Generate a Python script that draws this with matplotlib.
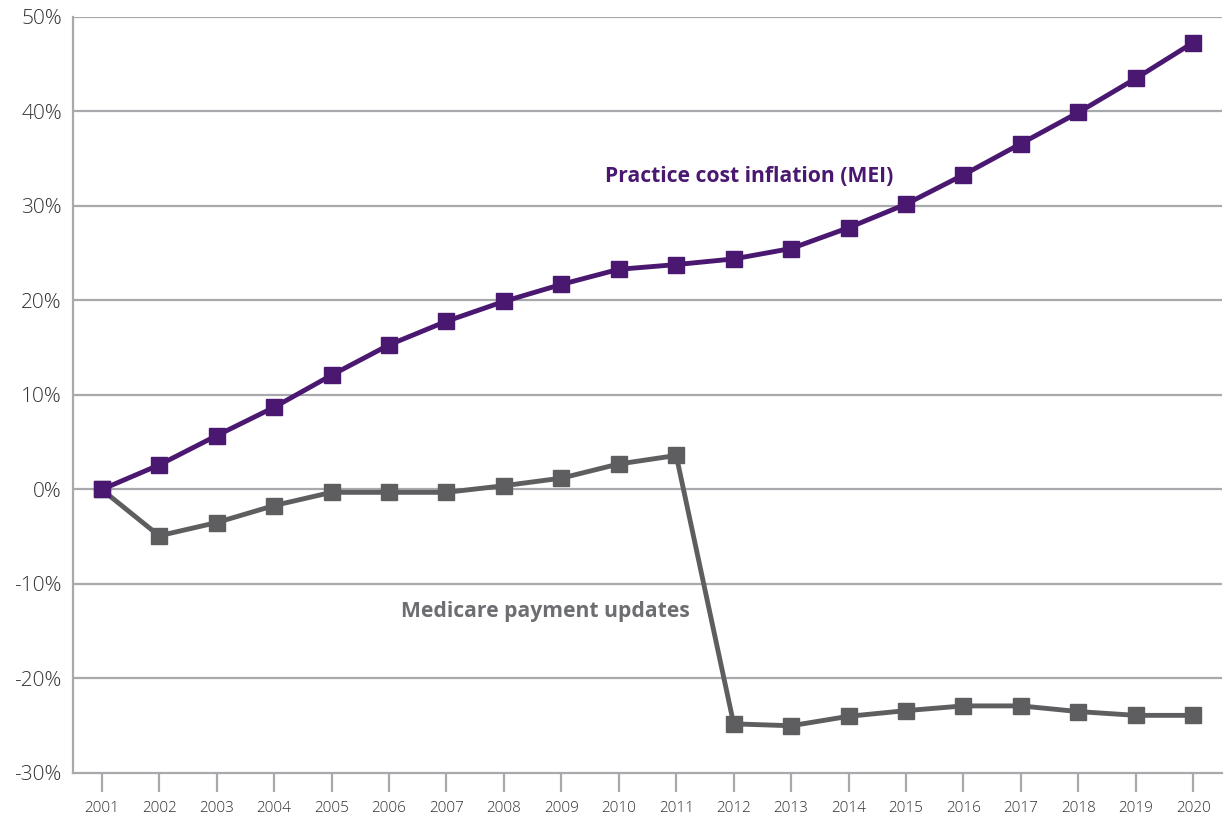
import matplotlib.pyplot as plt
from matplotlib.ticker import FuncFormatter

years = list(range(2001, 2021))
mei = [0, 2.6, 5.7, 8.7, 12.1, 15.3, 17.8, 19.9, 21.7, 23.3,
       23.8, 24.4, 25.5, 27.7, 30.2, 33.3, 36.6, 39.9, 43.5, 47.3]
medicare = [0, -4.9, -3.5, -1.7, -0.3, -0.3, -0.3, 0.4, 1.2, 2.7,
            3.6, -24.8, -25.0, -24.0, -23.4, -22.9, -22.9, -23.5, -23.9, -23.9]
y_ticks = [-30, -20, -10, 0, 10, 20, 30, 40, 50]

purple = '#4a1870'
gray_line = '#5e5e60'
grid_col = '#a7a9ac'

plt.rcParams['font.family'] = ['Open Sans', 'DejaVu Sans']

fig = plt.figure(figsize=(12.29, 8.16), dpi=100)
ax = fig.add_axes([73 / 1229, 1 - 773 / 816, (1222 - 73) / 1229, (773 - 17) / 816])

for v in y_ticks[1:]:
    ax.axhline(v, color=grid_col, lw=1.6, zorder=1)

ax.plot(years, medicare, color=gray_line, lw=3.5, marker='s', ms=11.5, zorder=3)
ax.plot(years, mei, color=purple, lw=3.5, marker='s', ms=11.5, zorder=4)

# series labels
ax.text(2012.27, 33.1, 'Practice cost inflation (MEI)', color=purple, fontsize=15.2,
        fontweight='bold', ha='center', va='center')
ax.text(2008.72, -12.95, 'Medicare payment updates', color='#6d6e71', fontsize=15.2,
        fontweight='bold', ha='center', va='center')

ax.set_xlim(2000.5, 2020.5)
ax.set_ylim(-30, 50)
ax.set_xticks(years)
ax.set_yticks(y_ticks)
ax.yaxis.set_major_formatter(FuncFormatter(lambda v, p: f'{int(v)}%'))

for s in ['top', 'right']:
    ax.spines[s].set_visible(False)
for s in ['left', 'bottom']:
    ax.spines[s].set_color(grid_col)
    ax.spines[s].set_linewidth(1.6)

ax.tick_params(axis='x', direction='out', length=14, width=1.6, color=grid_col,
               labelsize=11, labelcolor='#333333', pad=6)
ax.tick_params(axis='y', length=0, labelsize=15, labelcolor='#333333', pad=8)
for lab in ax.get_xticklabels() + ax.get_yticklabels():
    lab.set_fontweight('light')

fig.savefig('out.png', dpi=100)
